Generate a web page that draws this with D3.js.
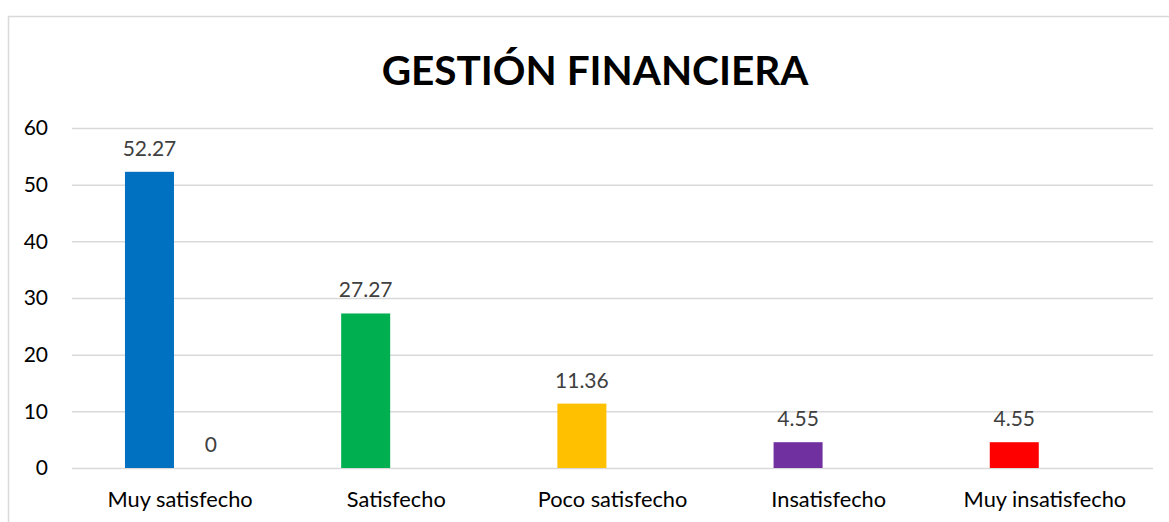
<!DOCTYPE html>
<html>
<head>
<meta charset="utf-8">
<script src="https://cdn.jsdelivr.net/npm/d3@7"></script>
<style>
  html, body { margin: 0; padding: 0; background: #fff; }
  svg { display: block; }
</style>
</head>
<body>
<svg id="chart" width="1169" height="522"></svg>
<script>
// ── Data ──────────────────────────────────────────────────────
const categories = ['Muy satisfecho', 'Satisfecho', 'Poco satisfecho', 'Insatisfecho', 'Muy insatisfecho'];
const series1 = [52.27, 27.27, 11.36, 4.55, 4.55];
const series2 = [0, null, null, null, null];
const barColors = ['#0070C0', '#00B050', '#FFC000', '#7030A0', '#FF0000'];
const yTicks = [0, 10, 20, 30, 40, 50, 60];
const title = 'GESTIÓN FINANCIERA';

const FONT = "Lato, 'Open Sans', sans-serif";

const svg = d3.select('#chart');
const margin = { left: 72, right: 16, top: 128, bottom: 54 };
const W = 1169, H = 522;
const plotW = W - margin.left - margin.right;
const plotH = H - margin.top - margin.bottom;

// Chart frame (top + left edges visible)
svg.append('rect')
  .attr('x', 8.5).attr('y', 16.5)
  .attr('width', 1180).attr('height', 540)
  .attr('fill', 'none')
  .attr('stroke', '#D9D9D9')
  .attr('stroke-width', 1.5);

const g = svg.append('g')
  .attr('transform', `translate(${margin.left},${margin.top})`);

const x0 = d3.scaleBand().domain(categories).range([0, plotW]).padding(0);
const x1 = d3.scaleBand().domain(['s1', 's2'])
  .range([x0.bandwidth() * 0.245, x0.bandwidth() * 0.755])
  .paddingInner(0.2);
const y = d3.scaleLinear().domain([0, 60]).range([plotH, 0]);

// ── Gridlines ─────────────────────────────────────────────────
g.append('g')
  .selectAll('line')
  .data(yTicks)
  .join('line')
  .attr('x1', 0).attr('x2', plotW)
  .attr('y1', d => y(d) + 0.5).attr('y2', d => y(d) + 0.5)
  .attr('stroke', '#D9D9D9')
  .attr('stroke-width', 1.5);

// ── Y axis labels ─────────────────────────────────────────────
const yAxis = g.append('g')
  .call(d3.axisLeft(y).tickValues(yTicks).tickSize(0).tickPadding(24));
yAxis.select('.domain').remove();
yAxis.selectAll('text')
  .attr('font-family', FONT)
  .attr('font-size', '21px')
  .attr('fill', '#000');

// ── X axis labels ─────────────────────────────────────────────
const xAxis = g.append('g')
  .attr('transform', `translate(0,${plotH})`)
  .call(d3.axisBottom(x0).tickSize(0).tickPadding(24));
xAxis.select('.domain').remove();
xAxis.selectAll('text')
  .attr('font-family', FONT)
  .attr('font-size', '21.8px')
  .attr('fill', '#000');

// ── Bars ──────────────────────────────────────────────────────
const rows = categories.map((c, i) => ({ cat: c, i, s1: series1[i], s2: series2[i] }));

const groups = g.append('g')
  .selectAll('g')
  .data(rows)
  .join('g')
  .attr('transform', d => `translate(${x0(d.cat)},0)`);

groups.append('rect')
  .attr('x', x1('s1'))
  .attr('width', x1.bandwidth())
  .attr('y', d => y(d.s1))
  .attr('height', d => y(0) - y(d.s1))
  .attr('fill', d => barColors[d.i]);

// Data labels
groups.append('text')
  .attr('x', x1('s1') + x1.bandwidth() / 2)
  .attr('y', d => y(d.s1) - 16)
  .attr('text-anchor', 'middle')
  .attr('font-family', FONT)
  .attr('font-size', '21px')
  .attr('fill', '#404040')
  .text(d => d.s1);

groups.filter(d => d.s2 !== null)
  .append('text')
  .attr('x', x1('s2') + x1.bandwidth() / 2)
  .attr('y', d => y(d.s2) - 16)
  .attr('text-anchor', 'middle')
  .attr('font-family', FONT)
  .attr('font-size', '21px')
  .attr('fill', '#404040')
  .text(d => d.s2);

// ── Title ─────────────────────────────────────────────────────
svg.append('text')
  .attr('x', 595)
  .attr('y', 85)
  .attr('text-anchor', 'middle')
  .attr('font-family', FONT)
  .attr('font-weight', 'bold')
  .attr('font-size', '40.5px')
  .attr('fill', '#000')
  .text(title);
</script>
</body>
</html>
